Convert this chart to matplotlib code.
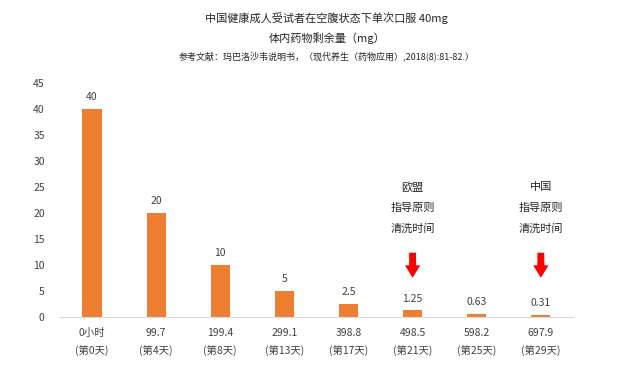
import matplotlib
matplotlib.use("Agg")
import matplotlib.pyplot as plt

plt.rcParams['font.family'] = ['Noto Sans CJK SC', 'DejaVu Sans']

# data
hours = ["0小时", "99.7", "199.4", "299.1", "398.8", "498.5", "598.2", "697.9"]
days = ["(第0天)", "(第4天)", "(第8天)", "(第13天)", "(第17天)", "(第21天)", "(第25天)", "(第29天)"]
remaining = [40, 20, 10, 5, 2.5, 1.25, 0.63, 0.31]
value_labels = ["40", "20", "10", "5", "2.5", "1.25", "0.63", "0.31"]
notes = {5: ["欧盟", "指导原则", "清洗时间"], 7: ["中国", "指导原则", "清洗时间"]}

bar_color = "#ED7D31"
text_color = "#404040"

fig = plt.figure(figsize=(6.43, 3.71), dpi=100)
ax = fig.add_axes([0.0933, 0.1456, 0.7977, 0.6304])

x = list(range(len(remaining)))
ax.bar(x, remaining, width=0.3, color=bar_color)

for xi, v, lab in zip(x, remaining, value_labels):
    ax.annotate(lab, (xi, v), xytext=(0, 5), textcoords="offset points",
                ha="center", va="bottom", fontsize=7.5, color=text_color)

# wash-out annotations with red arrows
for xi, lines in notes.items():
    for line, y in zip(lines, [25, 21, 17.1]):
        ax.text(xi, y, line, ha="center", va="center", fontsize=8, color="#262626")
    ax.annotate("", xy=(xi, 7.0), xytext=(xi, 12.9),
                arrowprops=dict(arrowstyle="simple,head_length=0.9,head_width=1.1,tail_width=0.5",
                                color="#FF0000", lw=0))

ax.set_xlim(-0.5, len(remaining) - 0.5)
ax.set_ylim(0, 45)
ax.set_yticks(range(0, 46, 5))
ax.set_xticks(x)
ax.set_xticklabels([f"{h}\n{d}" for h, d in zip(hours, days)], linespacing=1.8)
ax.tick_params(axis="both", length=0, labelsize=7.5, colors=text_color)
ax.tick_params(axis="x", pad=8)
ax.tick_params(axis="y", pad=11)

for s in ["top", "right", "left"]:
    ax.spines[s].set_visible(False)
ax.spines["bottom"].set_color("#D9D9D9")
ax.spines["bottom"].set_linewidth(0.8)

fig.text(0.508, 0.951, "中国健康成人受试者在空腹状态下单次口服 40mg", ha="center", va="center",
         fontsize=8, color="#262626")
fig.text(0.508, 0.898, "体内药物剩余量（mg）", ha="center", va="center", fontsize=8, color="#262626")
fig.text(0.508, 0.849, "参考文献：玛巴洛沙韦说明书，（现代养生（药物应用）,2018(8):81-82.）",
         ha="center", va="center", fontsize=6.5, color="#262626")

fig.savefig("out.png", dpi=100)
